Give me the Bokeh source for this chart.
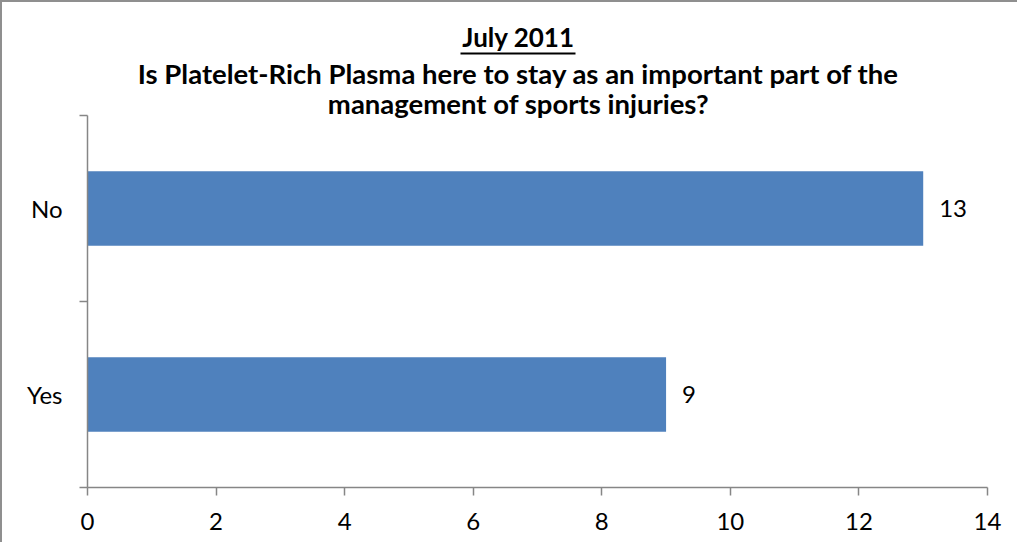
from bokeh.plotting import figure
from bokeh.models import (Range1d, FixedTicker, ColumnDataSource, LabelSet, Label,
                          BoxAnnotation)
from bokeh.core.properties import value
from bokeh.embed import file_html
from bokeh.resources import INLINE

categories = ["Yes", "No"]
counts = [9, 13]
x_ticks = [0, 2, 4, 6, 8, 10, 12, 14]
title_date = "July 2011"
title_lines = ["Is Platelet-Rich Plasma here to stay as an important part of the",
               "management of sports injuries?"]

FONT = "Lato"
AXIS_COLOR = "#868686"
BAR_COLOR = "#4F81BD"

FRAME_W = 900
FRAME_H = 485
BAND_PX = 186   # pixel height of one category band

positions = [i + 0.5 for i in range(len(categories))]
src = ColumnDataSource(dict(pos=positions, count=counts,
                            label=[str(c) for c in counts]))

y_top = FRAME_H / BAND_PX
p = figure(frame_width=FRAME_W, frame_height=FRAME_H, output_backend="svg",
           toolbar_location=None,
           x_range=Range1d(0, 14), y_range=Range1d(0, y_top),
           min_border_left=85, min_border_right=30, min_border_top=0,
           min_border_bottom=55)
p.styles = {"border-left": "2px solid #8f8f8f", "border-top": "2px solid #8f8f8f"}
p.outline_line_color = None
p.xgrid.visible = False
p.ygrid.visible = False

p.hbar(y="pos", right="count", left=0, height=0.4, source=src,
       fill_color=BAR_COLOR, line_color=None)

labels = LabelSet(x="count", y="pos", text="label", source=src, x_offset=16,
                  text_align="left", text_baseline="middle",
                  text_font=value(FONT), text_font_size="24px", text_color="#000000")
p.add_layout(labels)

xa = p.xaxis[0]
xa.ticker = FixedTicker(ticks=x_ticks)
xa.axis_line_color = AXIS_COLOR
xa.axis_line_width = 1.5
xa.major_tick_line_color = AXIS_COLOR
xa.major_tick_line_width = 1.5
xa.major_tick_in = 0
xa.major_tick_out = 8
xa.minor_tick_line_color = None
xa.major_label_standoff = 17
xa.major_label_text_font = FONT
xa.major_label_text_font_size = "24px"
xa.major_label_text_color = "#000000"

ya = p.yaxis[0]
ya.bounds = (0, len(categories))
ya.ticker = FixedTicker(ticks=positions, minor_ticks=list(range(len(categories) + 1)))
ya.major_label_overrides = {pos: cat for pos, cat in zip(positions, categories)}
ya.axis_line_color = AXIS_COLOR
ya.axis_line_width = 1.5
ya.major_tick_line_color = None
ya.major_tick_in = 0
ya.major_tick_out = 0
ya.minor_tick_line_color = AXIS_COLOR
ya.minor_tick_line_width = 1.5
ya.minor_tick_in = 0
ya.minor_tick_out = 8
ya.major_label_standoff = 17
ya.major_label_text_font = FONT
ya.major_label_text_font_size = "24px"
ya.major_label_text_color = "#000000"

# title (frame-relative screen units, inside the tall frame)
cx = 431
p.add_layout(Label(x=cx, y=451, x_units="screen", y_units="screen", text=title_date,
                   text_align="center", text_baseline="alphabetic", text_font=FONT,
                   text_font_style="bold", text_font_size="26px",
                   text_color="#000000"))
for txt, yy in zip(title_lines, [414, 384]):
    p.add_layout(Label(x=cx, y=yy, x_units="screen", y_units="screen", text=txt,
                       text_align="center", text_baseline="alphabetic", text_font=FONT,
                       text_font_style="bold", text_font_size="27.5px",
                       text_color="#000000"))
p.add_layout(BoxAnnotation(left=373, right=488, bottom=433, top=435,
                           left_units="screen", right_units="screen",
                           bottom_units="screen", top_units="screen",
                           fill_color="#000000", fill_alpha=1.0, line_color=None,
                           propagate_hover=False))

open("out.html", "w").write(file_html(p, INLINE))
